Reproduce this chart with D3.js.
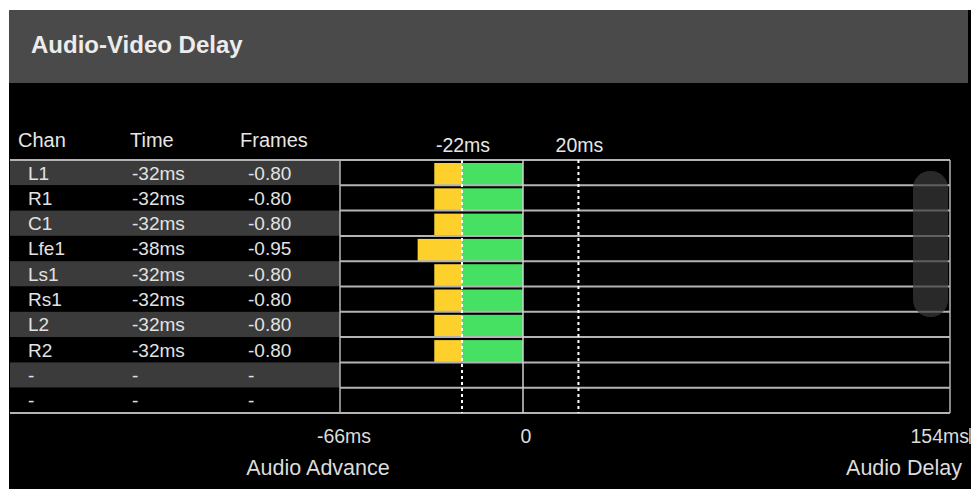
<!DOCTYPE html>
<html>
<head>
<meta charset="utf-8">
<script src="https://cdn.jsdelivr.net/npm/d3@7"></script>
<style>
  body { margin: 0; background: #fff; }
  svg { display: block; font-family: "Liberation Sans", Arial, sans-serif; }
</style>
</head>
<body>
<div id="vis"></div>
<script>
// data
var channels = ["L1", "R1", "C1", "Lfe1", "Ls1", "Rs1", "L2", "R2", "-", "-"];
var delayMs = [-32, -32, -32, -38, -32, -32, -32, -32, null, null];
var frames = [-0.80, -0.80, -0.80, -0.95, -0.80, -0.80, -0.80, -0.80, null, null];
var limitsMs = [-22, 20];
var axisTicks = [-66, 0, 154];

var width = 973, height = 489;
var plot = { left: 340, right: 950, top: 160, bottom: 413 };

var svg = d3.select("#vis").append("svg")
    .attr("width", width)
    .attr("height", height);

// panel background + header
svg.append("rect").attr("x", 9).attr("y", 10).attr("width", 962).attr("height", 479).attr("fill", "#000");
svg.append("rect").attr("x", 9).attr("y", 10).attr("width", 959).attr("height", 73).attr("fill", "#4a4a4a");
svg.append("text")
    .attr("x", 31).attr("y", 53)
    .attr("fill", "#ececec")
    .attr("font-size", 24).attr("font-weight", "bold")
    .text("Audio-Video Delay");

var x = d3.scaleLinear()
    .domain([axisTicks[0], axisTicks[2]])
    .range([plot.left, plot.right]);

var rows = d3.range(channels.length);
var y = d3.scaleBand()
    .domain(rows)
    .range([plot.top, plot.bottom]);

// column headers
var cols = [
    { label: "Chan", x: 18 },
    { label: "Time", x: 130 },
    { label: "Frames", x: 240 }
];
svg.selectAll(".colhead")
    .data(cols)
    .enter().append("text")
    .attr("class", "colhead")
    .attr("x", function(d) { return d.x; })
    .attr("y", 147)
    .attr("fill", "#e6e6e6")
    .attr("font-size", 20)
    .text(function(d) { return d.label; });

// striped table rows
svg.append("g").selectAll("rect")
    .data(rows)
    .enter().append("rect")
    .attr("x", 10)
    .attr("y", function(i) { return y(i); })
    .attr("width", plot.left - 10)
    .attr("height", y.bandwidth())
    .attr("fill", function(i) { return i % 2 === 0 ? "#3b3b3b" : "#000"; });

var cells = svg.append("g").selectAll("g")
    .data(rows)
    .enter().append("g")
    .attr("transform", function(i) { return "translate(0," + (y(i) + 19.5) + ")"; })
    .attr("fill", "#e2e2e2")
    .attr("font-size", 19);
cells.append("text").attr("x", 28).text(function(i) { return channels[i]; });
cells.append("text").attr("x", 132)
    .text(function(i) { return delayMs[i] == null ? "-" : delayMs[i] + "ms"; });
cells.append("text").attr("x", 248)
    .text(function(i) { return frames[i] == null ? "-" : frames[i].toFixed(2); });

// bars: yellow beyond the advance limit, green inside it
var bars = svg.append("g").selectAll("g")
    .data(rows.filter(function(i) { return delayMs[i] != null; }))
    .enter().append("g");
bars.append("rect")
    .attr("x", function(i) { return x(Math.min(delayMs[i], limitsMs[0])); })
    .attr("y", function(i) { return y(i) + 3; })
    .attr("width", function(i) { return x(limitsMs[0]) - x(Math.min(delayMs[i], limitsMs[0])); })
    .attr("height", y.bandwidth() - 3)
    .attr("fill", "#fdd02c");
bars.append("rect")
    .attr("x", function(i) { return x(Math.max(delayMs[i], limitsMs[0])); })
    .attr("y", function(i) { return y(i) + 3; })
    .attr("width", function(i) { return x(0) - x(Math.max(delayMs[i], limitsMs[0])); })
    .attr("height", y.bandwidth() - 3)
    .attr("fill", "#46e063");

// row grid lines
svg.append("g").selectAll("line")
    .data(rows.slice(1))
    .enter().append("line")
    .attr("x1", plot.left).attr("x2", plot.right)
    .attr("y1", function(i) { return y(i); })
    .attr("y2", function(i) { return y(i); })
    .attr("stroke", "#b4b4b4").attr("stroke-width", 2);

// frame
svg.append("line").attr("x1", 10).attr("x2", plot.right).attr("y1", plot.top).attr("y2", plot.top)
    .attr("stroke", "#b4b4b4").attr("stroke-width", 2);
svg.append("line").attr("x1", 10).attr("x2", plot.right).attr("y1", plot.bottom).attr("y2", plot.bottom)
    .attr("stroke", "#b4b4b4").attr("stroke-width", 2);
svg.append("line").attr("x1", plot.left).attr("x2", plot.left).attr("y1", plot.top).attr("y2", plot.bottom)
    .attr("stroke", "#b4b4b4").attr("stroke-width", 1.5);
svg.append("line").attr("x1", plot.right).attr("x2", plot.right).attr("y1", plot.top).attr("y2", plot.bottom)
    .attr("stroke", "#b4b4b4").attr("stroke-width", 1.5);

// zero line and limit markers
svg.append("line").attr("x1", x(0)).attr("x2", x(0)).attr("y1", plot.top).attr("y2", plot.bottom)
    .attr("stroke", "#d0d0d0").attr("stroke-width", 1.5);
svg.append("g").selectAll("line")
    .data(limitsMs)
    .enter().append("line")
    .attr("x1", function(d) { return x(d); })
    .attr("x2", function(d) { return x(d); })
    .attr("y1", plot.top).attr("y2", plot.bottom)
    .attr("stroke", "#fff").attr("stroke-width", 2)
    .attr("stroke-dasharray", "3,3");
svg.append("g").selectAll("text")
    .data(limitsMs)
    .enter().append("text")
    .attr("x", function(d) { return x(d) + 1; })
    .attr("y", 152)
    .attr("text-anchor", "middle")
    .attr("fill", "#e6e6e6")
    .attr("font-size", 19.5)
    .text(function(d) { return d + "ms"; });

// bottom scale labels
svg.append("g").selectAll("text")
    .data(axisTicks)
    .enter().append("text")
    .attr("x", function(d, i) { return i === 2 ? 969 : x(d) + (i === 0 ? 4 : 3); })
    .attr("y", 443)
    .attr("text-anchor", function(d, i) { return i === 2 ? "end" : "middle"; })
    .attr("fill", "#dcdcdc")
    .attr("font-size", 19.5)
    .text(function(d) { return d === 0 ? "0" : d + "ms"; });
svg.append("text").attr("x", 318).attr("y", 475).attr("text-anchor", "middle")
    .attr("fill", "#dcdcdc").attr("font-size", 21.5).text("Audio Advance");
svg.append("text").attr("x", 962).attr("y", 475).attr("text-anchor", "end")
    .attr("fill", "#dcdcdc").attr("font-size", 21.5).text("Audio Delay");

// scroll thumb (grid lines show faintly through it)
svg.append("rect").attr("x", 913).attr("y", 171).attr("width", 35).attr("height", 146)
    .attr("rx", 17).attr("fill", "#3a3a3a").attr("fill-opacity", 0.7);
svg.append("line").attr("x1", 970).attr("x2", 970).attr("y1", 428).attr("y2", 444)
    .attr("stroke", "#cfcfcf").attr("stroke-width", 1.5);
</script>
</body>
</html>
